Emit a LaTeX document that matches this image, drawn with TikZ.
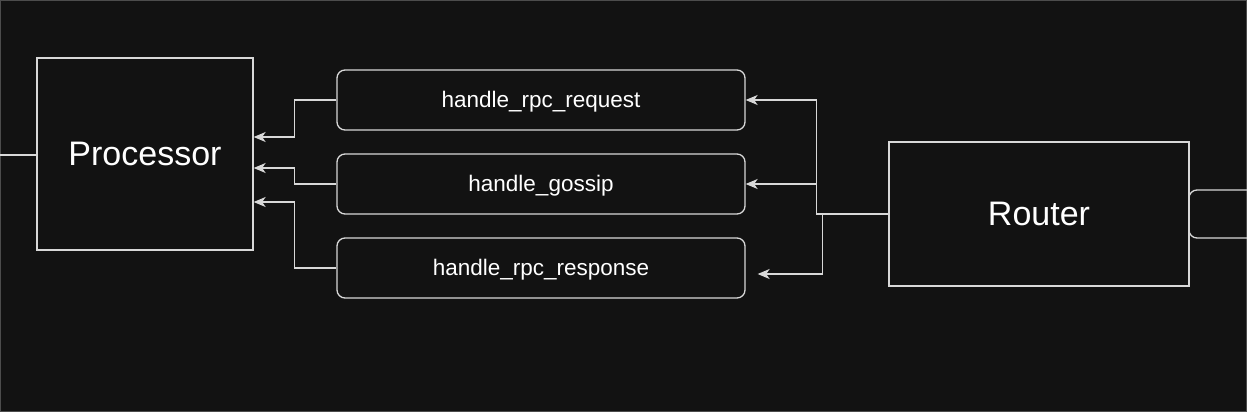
\documentclass[tikz,border=0pt]{standalone}
\usepackage{fontspec}
\setmainfont{Liberation Sans}
\usetikzlibrary{arrows.meta}
\definecolor{bg}{HTML}{121212}
\definecolor{ln}{HTML}{D8D8D8}
\begin{document}
\begin{tikzpicture}[x=1pt,y=-1pt,
  bigbox/.style={draw=ln, line width=1.3pt, text=white, font=\fontsize{34}{40}\selectfont, inner sep=0pt},
  handler/.style={draw=ln, line width=1.3pt, rounded corners=8pt, text=white, font=\fontsize{22.5}{26}\selectfont, minimum width=408pt, minimum height=60pt, inner sep=0pt, text height=20pt, text depth=4.6pt},
  conn/.style={draw=ln, line width=1.3pt},
  arr/.style={conn, -{Stealth[length=12pt, width=10pt, inset=3.5pt]}}]
\fill[bg] (0,0) rectangle (1247,412);
\draw[black!70, line width=1pt] (0.5,0.5) rectangle (1246.5,411.5);
\useasboundingbox (0,0) rectangle (1247,412);
\node[bigbox, minimum width=216pt, minimum height=192pt] (proc) at (145,154) {Processor};
\node[handler] (req) at (541,100) {handle\_rpc\_request};
\node[handler] (gos) at (541,184) {handle\_gossip};
\node[handler] (resp) at (541,268) {handle\_rpc\_response};
\node[bigbox, minimum width=300pt, minimum height=144pt] (router) at (1039,214) {Router};
\begin{scope}
\clip (0,0) rectangle (1247,412);
\node[draw=ln, line width=1.3pt, rounded corners=8pt, minimum width=112pt, minimum height=48pt, inner sep=0pt] (next) at (1245,214) {};
\end{scope}
\coordinate (lft) at (0,155);
\draw[conn] (lft) -- (lft -| proc.west);
\draw[arr] (req.west) -- ++(-42,0) |- ([yshift=17pt]proc.east);
\draw[arr] (gos.west) -- ++(-42,0) |- ([yshift=-14pt]proc.east);
\draw[arr] (resp.west) -- ++(-42,0) |- ([yshift=-48pt]proc.east);
\draw[arr] (router.west) -- ++(-72,0) |- (req.east);
\draw[arr] (router.west) ++(-72,0) |- (gos.east);
\draw[arr] (router.west) -- ++(-66,0) -- ++(0,60) -- ([xshift=12pt,yshift=-6pt]resp.east);
\end{tikzpicture}
\end{document}
